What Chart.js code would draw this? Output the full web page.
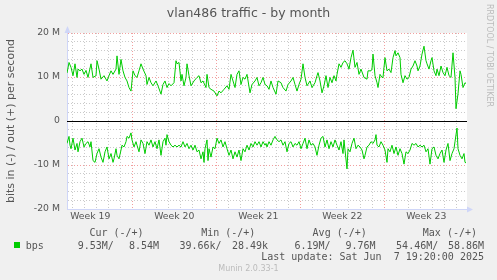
<!DOCTYPE html>
<html>
<head>
<meta charset="utf-8">
<title>vlan486 traffic - by month</title>
<script src="https://cdn.jsdelivr.net/npm/chart.js@4/dist/chart.umd.min.js"></script>
<style>
    html, body { margin: 0; padding: 0; background: #f0f0f0; }
    #wrap { position: relative; width: 497px; height: 280px; overflow: hidden; }
    #chart { position: absolute; left: 0; top: 0; }
    .t { position: absolute; white-space: pre; font-family: 'DejaVu Sans Mono', monospace; font-size: 10px; line-height: 12px; color: #555; }
    #swatch { position: absolute; left: 14px; top: 242px; width: 6px; height: 6px; background: #00cc00; }
    #rrd { position: absolute; left: 484px; top: 4px; writing-mode: vertical-rl; font: 8px/10px 'DejaVu Sans', sans-serif; color: #bbb; }
    #munin { position: absolute; left: 0; top: 264px; width: 497px; text-align: center; font: 8px/10px 'DejaVu Sans', sans-serif; color: #bbb; }
</style>
</head>
<body>
<div id="wrap">
    <canvas id="chart" width="497" height="280"></canvas>
    <div id="swatch"></div>
    <div id="rrd">RRDTOOL / TOBI OETIKER</div>
    <div id="munin">Munin 2.0.33-1</div>
</div>
<script>
// hours since the start of the graph window (one rrd row = 2 h)
const outHours = [0, 4, 8, 12, 16, 20, 22, 26, 30, 34, 38, 42, 48, 52, 58, 60, 64, 68, 74, 80, 84, 88, 92, 98, 100, 104, 108, 112, 116, 120, 124, 128, 132, 136, 140, 144, 148, 152, 158, 160, 164, 168, 172, 178, 182, 188, 192, 196, 200, 204, 208, 214, 218, 220, 224, 228, 230, 234, 238, 240, 244, 248, 254, 260, 264, 268, 272, 278, 280, 284, 288, 294, 300, 304, 308, 314, 320, 324, 328, 332, 336, 340, 344, 348, 352, 356, 360, 366, 370, 376, 380, 384, 388, 392, 396, 400, 404, 408, 412, 418, 422, 428, 432, 438, 442, 448, 452, 456, 460, 464, 468, 472, 476, 480, 486, 490, 496, 500, 502, 506, 510, 514, 518, 522, 526, 530, 534, 538, 540, 544, 548, 552, 556, 560, 564, 568, 572, 576, 580, 584, 588, 594, 600, 602, 608, 610, 612, 616, 620, 622, 626, 630, 632, 636, 640, 644, 648, 652, 656, 658, 662, 666, 668, 672, 676, 680, 684, 688, 692, 696, 700, 702, 706, 710, 714, 718, 720, 724, 728, 730, 734, 738, 740, 744, 748, 752, 756, 760, 764, 768, 772, 776, 778, 782, 786, 788, 792, 796, 798];
// out, Mbit/s
const outMbps = [10.9, 13.3, 12.2, 10.3, 13, 9.9, 11.8, 11.4, 11.8, 10.6, 11.5, 9.9, 13, 9.9, 10.3, 13.7, 11.8, 9.5, 10.3, 9.1, 10.3, 11.4, 10.6, 11.8, 14.8, 10.6, 14, 11.4, 9.9, 9.1, 7.6, 6.8, 11.4, 10.3, 9.9, 11.4, 13, 11.8, 10.3, 8.3, 9.9, 8.7, 8, 9.1, 8, 6.1, 8.3, 9.1, 7.6, 8.5, 8, 8.7, 13.7, 13, 13.3, 9.1, 10.6, 8, 9.9, 13, 10.3, 8, 9.1, 9.9, 10.3, 8.7, 9.1, 7.6, 10.6, 7.6, 7.2, 6.8, 5.7, 6.8, 6.4, 7.2, 8, 7.2, 10.6, 9.1, 7.6, 10.6, 11.4, 8.3, 9.9, 9.5, 10.6, 6.4, 8.3, 9.1, 9.9, 8, 8.7, 9.9, 8.3, 8, 7.2, 9.1, 7.6, 6.1, 9.1, 8.7, 7.6, 6.8, 8.3, 9.1, 9.9, 8.3, 6.8, 8.3, 9.5, 13, 9.9, 8, 9.1, 7.6, 8.7, 10.3, 11, 9.1, 6.4, 8, 10.3, 7.6, 9.9, 8.7, 10.3, 9.1, 10.6, 13, 12.2, 13.3, 13.7, 13, 11.8, 14.4, 16.1, 12.2, 13.3, 10.6, 11.8, 9.9, 9.5, 11.4, 11.4, 11.8, 15.2, 10.3, 8.7, 7.6, 10.6, 9.9, 9.9, 14.4, 11.4, 11.8, 11, 14.4, 16, 14.8, 15.5, 14.4, 10.6, 8.7, 10.3, 9.5, 9.9, 11.8, 12.5, 13.7, 12.5, 11.4, 12.5, 15.2, 17, 13.7, 13, 11.8, 13.7, 14.4, 11.4, 10.3, 11.8, 10.3, 12.5, 11, 10.3, 12.2, 10.3, 9.9, 15.5, 9.9, 2.8, 6.2, 11.4, 10.6, 7.6, 8.7, 8.5];

const inHours = [0, 4, 6, 8, 12, 16, 20, 22, 26, 30, 34, 38, 42, 46, 48, 52, 56, 60, 64, 68, 72, 76, 80, 84, 88, 92, 94, 98, 100, 104, 108, 110, 114, 118, 120, 124, 128, 130, 134, 138, 140, 144, 148, 152, 156, 160, 164, 168, 172, 176, 180, 184, 188, 192, 196, 198, 200, 204, 208, 212, 216, 220, 224, 228, 232, 236, 240, 244, 248, 252, 256, 260, 264, 268, 272, 274, 276, 280, 282, 284, 288, 292, 296, 300, 304, 308, 312, 316, 320, 324, 328, 332, 336, 340, 344, 348, 352, 356, 360, 364, 368, 372, 376, 380, 384, 388, 392, 396, 398, 400, 404, 408, 412, 416, 420, 424, 428, 432, 436, 440, 444, 448, 452, 456, 460, 464, 468, 472, 476, 480, 484, 488, 492, 496, 500, 504, 508, 512, 516, 520, 524, 528, 532, 536, 540, 544, 548, 552, 554, 556, 560, 562, 566, 570, 574, 578, 582, 586, 590, 594, 596, 600, 604, 608, 612, 616, 618, 620, 624, 628, 632, 636, 640, 642, 646, 650, 654, 658, 662, 666, 670, 674, 678, 682, 686, 690, 694, 698, 702, 706, 710, 714, 718, 722, 726, 730, 734, 738, 742, 746, 750, 754, 758, 762, 766, 770, 774, 776, 780, 782, 786, 790, 794, 796, 798];
// in, Mbit/s (drawn below zero)
const inMbps = [5.1, 3.5, 5.5, 6.3, 3.9, 6.6, 5.1, 7, 4.7, 3.9, 5.9, 5.1, 4.7, 5.9, 4.7, 9, 9.4, 7.4, 6.3, 8.2, 9.4, 7, 5.9, 8.6, 7.4, 9.4, 8.6, 6.3, 7.8, 8.6, 6.6, 5.5, 5.9, 4.7, 3.5, 3.9, 2.7, 4.3, 5.9, 4.7, 5.5, 7, 4.3, 5.1, 7.4, 4.7, 5.5, 4.3, 5.9, 4.7, 6.3, 4.3, 7.8, 4.7, 3.9, 5.5, 3.1, 4.7, 5.5, 5.9, 5.5, 5.9, 5.5, 5.9, 4.7, 5.9, 5.1, 6.3, 5.5, 6.6, 5.5, 7, 6.6, 8.6, 7, 9.4, 6.3, 4.3, 9, 6.3, 8.2, 5.9, 6.3, 3.9, 5.1, 4.3, 5.9, 4.7, 6.3, 7.8, 6.6, 8.6, 7, 8.2, 6.6, 9, 6.3, 7, 5.5, 6.6, 5.1, 5.9, 4.7, 5.5, 4.7, 5.9, 4.7, 5.5, 5.1, 5.9, 4.7, 5.5, 4.3, 3.5, 4.3, 4.7, 4.3, 5.5, 4.7, 7, 5.1, 4.7, 5.9, 5.1, 5.5, 4.7, 6.3, 5.1, 3.9, 6.3, 4.3, 5.5, 5.1, 5.9, 7.8, 5.5, 3.9, 3.5, 5.9, 4.3, 6.3, 4.7, 5.9, 4.3, 5.5, 6.6, 4.7, 7.4, 4.3, 6.6, 10.9, 6.3, 7, 5.1, 3.9, 6.3, 5.5, 5.9, 6.6, 8.6, 7.8, 5.9, 5.5, 4.7, 5.1, 4.3, 3.1, 5.5, 5.9, 4.7, 5.5, 6.6, 9.4, 6.3, 7, 5.5, 7.4, 5.9, 7.8, 6.3, 7.4, 9.8, 7, 7.4, 6.6, 5.1, 5.5, 5.1, 5.9, 5.5, 5.9, 5.5, 7, 6.3, 9.8, 6.3, 5.9, 7.8, 8.6, 7.4, 6.6, 9.4, 6.6, 5.1, 9, 7.4, 6.3, 4.7, 1.6, 6.3, 7.8, 8.6, 7.4, 9.4, 9.5];

const weekLabels = ['Week 19', 'Week 20', 'Week 21', 'Week 22', 'Week 23'];
const weekStartHours = [-37.4, 130.6, 298.6, 466.6, 634.6];
const yTickValues = [-20, -18, -16, -14, -12, -10, -8, -6, -4, -2, 0, 2, 4, 6, 8, 10, 12, 14, 16, 18, 20];

const statHeaders = ['Cur (-/+)', 'Min (-/+)', 'Avg (-/+)', 'Max (-/+)'];
const statIn = ['9.53M', '39.66k', '6.19M', '54.46M'];
const statOut = ['8.54M', '28.49k', '9.76M', '58.86M'];
const seriesName = 'bps';
const lastUpdate = 'Last update: Sat Jun  7 19:20:00 2025';

const HOURS_SHOWN = 800;
const GREEN = '#00cc00';
const AXIS = '#cfd6f8';
const MAJOR = 'rgba(230, 80, 80, 0.55)';
const MINOR = 'rgba(150, 150, 150, 0.5)';
const TEXT = '#555';

const dayTicks = [];
for (let h = weekStartHours[1] % 24; h < HOURS_SHOWN; h += 24) dayTicks.push(h);
const weekMids = weekStartHours.map(h => h + 84);
const xTickValues = dayTicks.concat(weekMids).sort((a, b) => a - b);

const near = (a, b) => Math.abs(a - b) < 0.01;
const weekMidIndex = v => weekMids.findIndex(h => near(h, v));

const muninPlugin = {
    id: 'muninLook',
    beforeDraw(chart) {
        const { ctx, chartArea: a } = chart;
        ctx.save();
        ctx.fillStyle = '#fff';
        ctx.fillRect(a.left, a.top, a.right - a.left, a.bottom - a.top);
        ctx.restore();
    },
    beforeDatasetsDraw(chart) {
        const { ctx, chartArea: a, scales } = chart;
        const y0 = Math.round(scales.y.getPixelForValue(0)) + 0.5;
        ctx.save();
        ctx.strokeStyle = '#000';
        ctx.lineWidth = 1;
        ctx.beginPath();
        ctx.moveTo(a.left, y0);
        ctx.lineTo(a.right, y0);
        ctx.stroke();
        ctx.restore();
    },
    afterDraw(chart) {
        const { ctx, chartArea: a } = chart;
        ctx.save();
        ctx.fillStyle = AXIS;
        ctx.beginPath();
        ctx.moveTo(a.left + 0.5, a.top - 7);
        ctx.lineTo(a.left - 2.5, a.top);
        ctx.lineTo(a.left + 3.5, a.top);
        ctx.closePath();
        ctx.fill();
        ctx.beginPath();
        ctx.moveTo(a.right + 6, a.bottom + 0.5);
        ctx.lineTo(a.right, a.bottom - 2.5);
        ctx.lineTo(a.right, a.bottom + 3.5);
        ctx.closePath();
        ctx.fill();
        ctx.restore();
    }
};

new Chart(document.getElementById('chart'), {
    type: 'line',
    data: {
        datasets: [{
            label: 'out',
            data: outHours.map((h, i) => ({ x: h, y: outMbps[i] })),
            borderColor: GREEN,
            borderWidth: 1,
            pointRadius: 0,
            tension: 0
        }, {
            label: 'in',
            data: inHours.map((h, i) => ({ x: h, y: -inMbps[i] })),
            borderColor: GREEN,
            borderWidth: 1,
            pointRadius: 0,
            tension: 0
        }]
    },
    options: {
        responsive: false,
        animation: false,
        devicePixelRatio: 1,
        layout: { padding: 0 },
        plugins: {
            legend: { display: false },
            tooltip: { enabled: false },
            title: {
                display: true,
                text: 'vlan486 traffic - by month',
                color: TEXT,
                font: { family: 'DejaVu Sans', size: 12.5, weight: 'normal' },
                padding: { top: 6.5, bottom: 11.5 }
            }
        },
        scales: {
            x: {
                type: 'linear',
                min: 0,
                max: HOURS_SHOWN,
                afterBuildTicks: s => { s.ticks = xTickValues.map(v => ({ value: v })); },
                afterFit: s => { s.height = 71; },
                ticks: {
                    autoSkip: false,
                    maxRotation: 0,
                    padding: 2,
                    color: TEXT,
                    font: { family: 'DejaVu Sans', size: 9.3 },
                    callback: v => {
                        const i = weekMidIndex(v);
                        return i >= 0 ? weekLabels[i] : '';
                    }
                },
                grid: {
                    drawTicks: false,
                    lineWidth: 1,
                    color: c => {
                        const v = c.tick ? c.tick.value : 0;
                        if (weekMidIndex(v) >= 0) return 'transparent';
                        return weekStartHours.some(h => near(h, v)) ? MAJOR : MINOR;
                    }
                },
                border: { display: true, color: AXIS, dash: [1, 2] }
            },
            y: {
                min: -20,
                max: 20,
                afterBuildTicks: s => { s.ticks = yTickValues.map(v => ({ value: v })); },
                afterFit: s => { s.width = 67; },
                ticks: {
                    autoSkip: false,
                    padding: 7,
                    color: TEXT,
                    font: { family: 'DejaVu Sans', size: 9.3 },
                    callback: v => v === 0 ? '0' : (v % 10 === 0 ? v + ' M' : '')
                },
                title: {
                    display: true,
                    text: 'bits in (-) / out (+) per second',
                    color: TEXT,
                    font: { family: 'DejaVu Sans', size: 11 },
                    padding: { top: 5, bottom: 0 }
                },
                grid: {
                    drawTicks: false,
                    lineWidth: 1,
                    color: c => {
                        const v = c.tick ? c.tick.value : 0;
                        if (v === 0) return 'transparent';
                        return v % 10 === 0 ? MAJOR : MINOR;
                    }
                },
                border: { display: true, color: AXIS, dash: [1, 2] }
            },
            yRight: {
                position: 'right',
                afterFit: s => { s.width = 30; },
                ticks: { display: false },
                grid: { display: false },
                border: { display: false }
            }
        }
    },
    plugins: [muninPlugin]
});

// munin style legend underneath the graph
const wrap = document.getElementById('wrap');
function addText(text, top, left, right) {
    const el = document.createElement('div');
    el.className = 't';
    el.textContent = text;
    el.style.top = top + 'px';
    if (left !== null) el.style.left = left + 'px';
    if (right !== null) {
        el.style.right = (497 - right) + 'px';
        el.style.textAlign = 'right';
    }
    wrap.appendChild(el);
}

const headerLeft = [89.4, 201.2, 312.6, 422.8];
const inLeft = [77.7, 179.4, 294.4, 396.1];
const outRight = [159, 268, 375.6, 484];

statHeaders.forEach((h, i) => addText(h, 226.5, headerLeft[i], null));
addText(seriesName, 240, 25.8, null);
statIn.forEach((v, i) => addText(v + '/', 240, inLeft[i], null));
statOut.forEach((v, i) => addText(v, 240, null, outRight[i]));
addText(lastUpdate, 251.2, null, 484);
</script>
</body>
</html>
